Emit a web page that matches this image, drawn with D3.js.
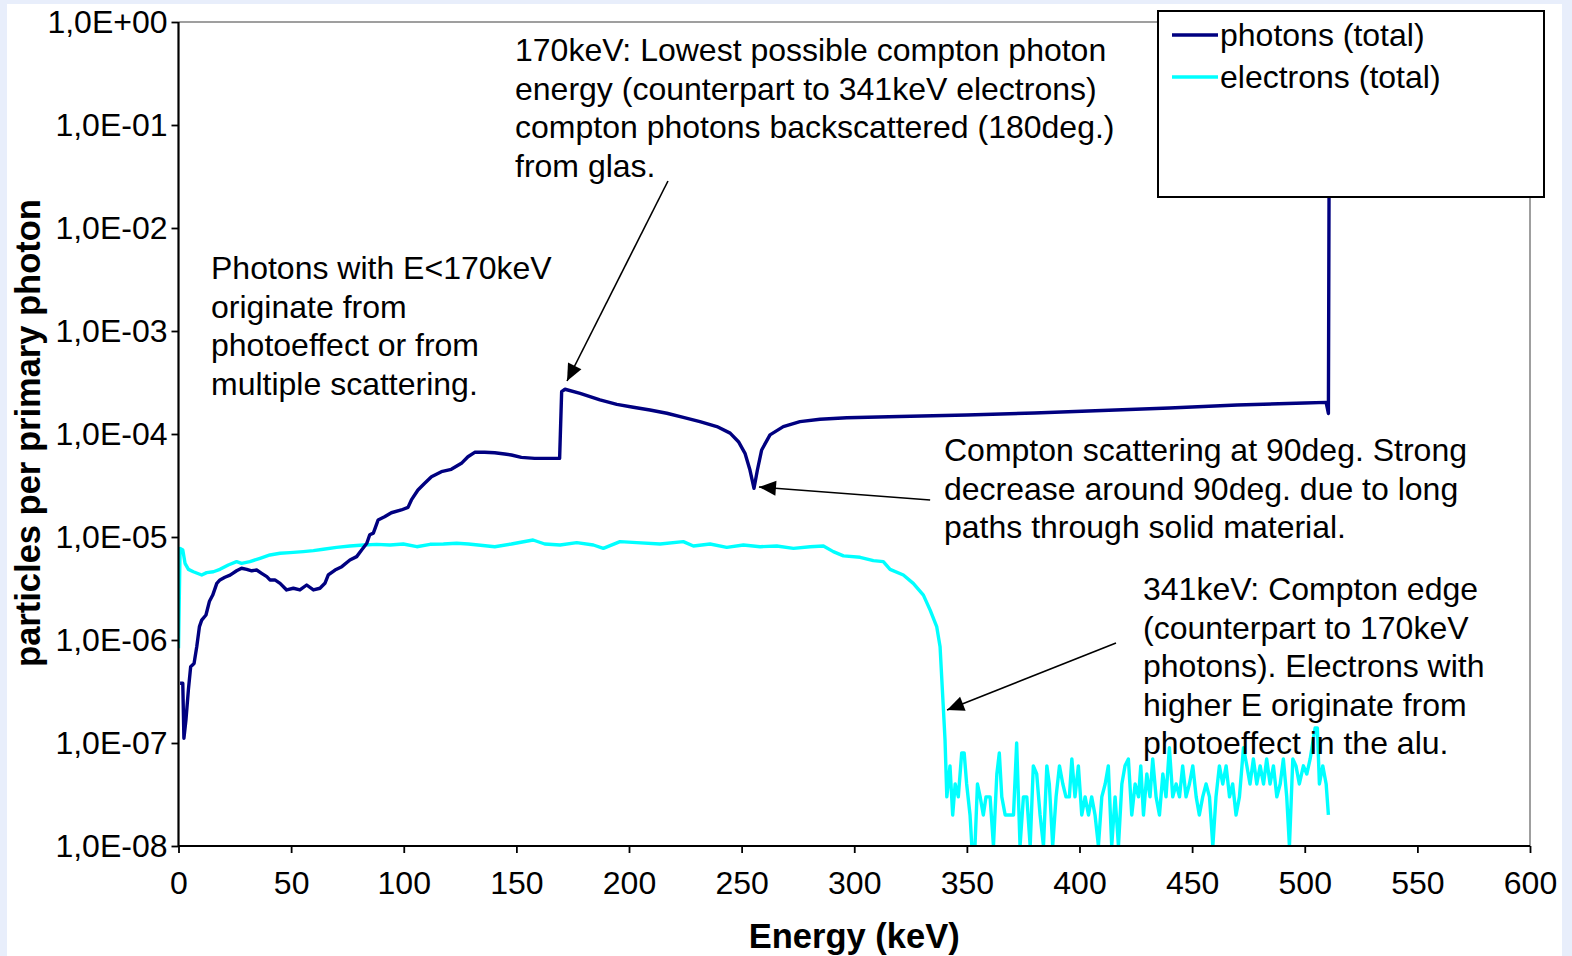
<!DOCTYPE html>
<html>
<head>
<meta charset="utf-8">
<script src="https://cdn.jsdelivr.net/npm/d3@7/dist/d3.min.js"></script>
<style>
  html, body { margin: 0; padding: 0; background: #e8eefb; }
  svg { display: block; font-family: "Liberation Sans", Arial, sans-serif; }
</style>
</head>
<body>
<svg id="chart" width="1572" height="956"></svg>
<script>
// ---------------- data ----------------
const xTickValues = [0, 50, 100, 150, 200, 250, 300, 350, 400, 450, 500, 550, 600];
const yTickValues = [1, 1e-1, 1e-2, 1e-3, 1e-4, 1e-5, 1e-6, 1e-7, 1e-8];
const yTickLabels = ["1,0E+00", "1,0E-01", "1,0E-02", "1,0E-03", "1,0E-04", "1,0E-05", "1,0E-06", "1,0E-07", "1,0E-08"];

const seriesNames = ["photons (total)", "electrons (total)"];

// photons (total): energy (keV) and particles per primary photon
const photonEnergy = [0.7, 1.9, 2.4, 3.3, 4.4, 5.4, 6.9, 8.1, 9.3, 10.3, 12.2, 13.7, 15.2, 17.0, 18.4, 20.6, 22.9, 25.8, 28.0, 30.3, 32.5, 34.7, 36.9, 39.2, 40.6, 42.8, 45.1, 48.0, 51.0, 53.9, 56.9, 59.9, 62.8, 65.0, 66.5, 69.5, 72.5, 76.1, 79.1, 81.3, 83.6, 84.9, 86.5, 88.6, 91.5, 94.5, 98.9, 101.9, 103.4, 106.3, 109.3, 112.3, 116.7, 121.1, 125.6, 128.5, 131.5, 135.9, 140.4, 144.8, 147.8, 152.2, 158.1, 162.6, 169.2, 170.1, 171.6, 178.3, 187.1, 194.6, 201.9, 209.3, 216.8, 224.1, 231.5, 239.0, 244.9, 248.6, 251.5, 253.7, 255.5, 257.0, 258.9, 262.6, 268.5, 275.9, 284.8, 296.7, 320, 350, 380, 410, 440, 470, 500, 509.5, 510.5, 511.0];
const photonValue = [3.8e-7, 3.8e-7, 1.11e-7, 1.67e-7, 3.3e-7, 5.5e-7, 5.9e-7, 8.6e-7, 1.35e-6, 1.56e-6, 1.75e-6, 2.36e-6, 2.73e-6, 3.55e-6, 3.83e-6, 4.07e-6, 4.27e-6, 4.7e-6, 4.97e-6, 4.85e-6, 4.7e-6, 4.78e-6, 4.44e-6, 4.12e-6, 3.83e-6, 3.83e-6, 3.55e-6, 3.06e-6, 3.18e-6, 3.06e-6, 3.42e-6, 3.06e-6, 3.18e-6, 3.55e-6, 4.28e-6, 4.78e-6, 5.15e-6, 5.98e-6, 6.45e-6, 7.48e-6, 8.69e-6, 1.05e-5, 1.09e-5, 1.46e-5, 1.57e-5, 1.72e-5, 1.83e-5, 1.94e-5, 2.29e-5, 2.86e-5, 3.32e-5, 3.85e-5, 4.31e-5, 4.54e-5, 5.19e-5, 6.02e-5, 6.64e-5, 6.64e-5, 6.57e-5, 6.4e-5, 6.25e-5, 5.93e-5, 5.8e-5, 5.8e-5, 5.8e-5, 2.58e-4, 2.72e-4, 2.48e-4, 2.14e-4, 1.94e-4, 1.82e-4, 1.71e-4, 1.59e-4, 1.45e-4, 1.32e-4, 1.18e-4, 1.02e-4, 8.42e-5, 6.49e-5, 4.47e-5, 2.97e-5, 4.47e-5, 7.0e-5, 9.8e-5, 1.18e-4, 1.32e-4, 1.39e-4, 1.44e-4, 1.48e-4, 1.53e-4, 1.6e-4, 1.69e-4, 1.79e-4, 1.91e-4, 2.0e-4, 2.03e-4, 1.58e-4, 0.9];

// electrons (total)
const electronEnergy = [0.0, 0.7, 1.9, 2.9, 4.4, 6.6, 10.3, 12.5, 15.5, 18.4, 22.1, 25.8, 28.0, 31.7, 36.2, 40.6, 45.1, 49.5, 55.4, 59.9, 64.3, 70.2, 76.1, 82.1, 88.0, 93.9, 99.8, 105.8, 111.7, 117.6, 123.5, 128.7, 133.0, 140.4, 147.8, 157.4, 162.6, 169.4, 176.8, 184.2, 188.6, 196.0, 203.4, 213.8, 224.1, 228.6, 236.0, 243.4, 250.8, 258.2, 265.6, 273.0, 280.4, 286.3, 290.7, 295.2, 302.6, 308.5, 312.9, 315.9, 321.8, 326.2, 330.7, 333.7, 336.6, 338.1, 339.6, 340.3,
  341.1, 342.5, 343.7, 344.8, 346.2, 347.7, 348.8, 349.9, 351.4, 352.2, 353.6, 354.7, 355.9, 357.3, 358.5, 360.3, 361.8, 363.3, 364.4, 365.5, 367.0, 368.4, 370.7, 372.1, 373.6, 375.1, 376.6, 378.1, 379.5, 381.0, 382.5, 384.0, 385.5, 386.6, 388.1, 389.6, 391.1, 392.6, 394.0, 395.5, 396.6, 398.0, 399.5, 401.0, 402.5, 404.0, 405.4, 406.9, 408.4, 409.9, 411.4, 412.8, 414.3, 415.8, 417.3, 418.8, 420.2, 421.7, 423.2, 424.7, 426.2, 427.2, 428.4, 429.9, 431.3, 432.5, 434.0, 435.5, 437.0, 438.4, 439.9, 441.4, 442.9, 444.4, 445.8, 447.3, 448.8, 450.3, 451.8, 453.2, 454.7, 456.2, 457.7, 459.2, 460.6, 462.1, 463.6, 465.1, 466.6, 468.0, 469.5, 471.0, 472.8, 474.3, 475.7, 477.2, 478.7, 480.2, 481.7, 483.1, 484.6, 486.1, 487.6, 489.1, 490.5, 492.0, 493.2, 494.7, 496.1, 497.6, 499.4, 500.9, 502.4, 504.6, 505.6, 506.5, 508.0, 509.5, 510.5];
const electronValue = [8.3e-7, 7.76e-6, 7.48e-6, 5.55e-6, 4.85e-6, 4.6e-6, 4.28e-6, 4.51e-6, 4.6e-6, 4.85e-6, 5.35e-6, 5.76e-6, 5.55e-6, 5.76e-6, 6.21e-6, 6.69e-6, 6.95e-6, 7.05e-6, 7.21e-6, 7.37e-6, 7.6e-6, 7.94e-6, 8.18e-6, 8.36e-6, 8.49e-6, 8.36e-6, 8.55e-6, 8.05e-6, 8.49e-6, 8.55e-6, 8.69e-6, 8.55e-6, 8.36e-6, 8.05e-6, 8.55e-6, 9.35e-6, 8.55e-6, 8.36e-6, 8.81e-6, 8.36e-6, 7.76e-6, 9.02e-6, 8.81e-6, 8.55e-6, 9.02e-6, 8.18e-6, 8.55e-6, 7.94e-6, 8.36e-6, 8.05e-6, 8.18e-6, 7.76e-6, 8.05e-6, 8.18e-6, 7.21e-6, 6.55e-6, 6.35e-6, 5.89e-6, 5.76e-6, 4.85e-6, 4.28e-6, 3.55e-6, 2.73e-6, 1.95e-6, 1.35e-6, 8.6e-7, 2.09e-7, 1.07e-7,
  3e-8, 6e-8, 2e-8, 4e-8, 3e-8, 8e-8, 8e-8, 4e-8, 2e-8, 1e-8, 1e-8, 4e-8, 3e-8, 2e-8, 3e-8, 3e-8, 1e-8, 5e-8, 8e-8, 3e-8, 2e-8, 2e-8, 2e-8, 1e-7, 1e-8, 3e-8, 3e-8, 1e-8, 6e-8, 5e-8, 2e-8, 1e-8, 6e-8, 4e-8, 1e-8, 3e-8, 6e-8, 4e-8, 3e-8, 3e-8, 7e-8, 3e-8, 6e-8, 2e-8, 3e-8, 2e-8, 3e-8, 2e-8, 1e-8, 3e-8, 4e-8, 6e-8, 1e-8, 3e-8, 1e-8, 4e-8, 6e-8, 7e-8, 2e-8, 4e-8, 3e-8, 6e-8, 2e-8, 5e-8, 3e-8, 7e-8, 3e-8, 2e-8, 5e-8, 3e-8, 9e-8, 3e-8, 4e-8, 3e-8, 6e-8, 3e-8, 4e-8, 6e-8, 3e-8, 2e-8, 3e-8, 4e-8, 3e-8, 1e-8, 3e-8, 6e-8, 4e-8, 6e-8, 3e-8, 4e-8, 2e-8, 3e-8, 9e-8, 6e-8, 4e-8, 7e-8, 4e-8, 6e-8, 4e-8, 7e-8, 4e-8, 6e-8, 3e-8, 4e-8, 7e-8, 3e-8, 1e-8, 7e-8, 6e-8, 4e-8, 6e-8, 5e-8, 7e-8, 1.4e-7, 1.4e-7, 4e-8, 6e-8, 4e-8, 2e-8];

const annotationTexts = [
  ["170keV: Lowest possible compton photon", "energy (counterpart to 341keV electrons)", "compton photons backscattered (180deg.)", "from glas."],
  ["Photons with E<170keV", "originate from", "photoeffect or from", "multiple scattering."],
  ["Compton scattering at 90deg. Strong", "decrease around 90deg. due to long", "paths through solid material."],
  ["341keV: Compton edge", "(counterpart to 170keV", "photons). Electrons with", "higher E originate from", "photoeffect in the alu."]
];
// arrows in data units: [tailE, tailV, tipE, tipV]
const arrowEnds = [
  [217.3, 2.86e-2, 172.5, 3.27e-4],
  [333.7, 2.29e-5, 257.7, 3.06e-5],
  [416.2, 9.35e-7, 341.2, 2.09e-7]
];

// ---------------- layout ----------------
const W = 1572, H = 956;
const plot = { left: 178.5, right: 1530, top: 22, bottom: 846 };
const colors = { photons: "#000080", electrons: "#00ffff" };
const font = '"Liberation Sans", Arial, sans-serif';

const svg = d3.select("#chart");
svg.append("rect").attr("x", 0).attr("y", 0).attr("width", W).attr("height", H).attr("fill", "#e8eefb");
svg.append("rect").attr("x", 7).attr("y", 4).attr("width", 1555).attr("height", H - 4).attr("fill", "#ffffff");

const x = d3.scaleLinear().domain([0, 600]).range([plot.left, plot.right]);
const y = d3.scaleLog().domain([1e-8, 1]).range([plot.bottom, plot.top]);

// frame (top / right, grey)
svg.append("path")
  .attr("d", `M${plot.left},${plot.top}H${plot.right}V${plot.bottom}`)
  .attr("fill", "none").attr("stroke", "#808080").attr("stroke-width", 1.5);

// clip
const defs = svg.append("defs");
defs.append("clipPath").attr("id", "clip")
  .append("rect").attr("x", plot.left).attr("y", plot.top)
  .attr("width", plot.right - plot.left).attr("height", plot.bottom - plot.top);

// arrow marker
defs.append("marker")
  .attr("id", "head").attr("viewBox", "-18 -9 20 18")
  .attr("refX", 0).attr("refY", 0)
  .attr("markerWidth", 20).attr("markerHeight", 18)
  .attr("markerUnits", "userSpaceOnUse")
  .attr("orient", "auto")
  .append("path").attr("d", "M0,0L-17,-7.5L-17,7.5Z").attr("fill", "#000");

const line = d3.line().x(d => x(d[0])).y(d => y(d[1]));
const photons = photonEnergy.map((e, i) => [e, photonValue[i]]);
const electrons = electronEnergy.map((e, i) => [e, electronValue[i]]);

const g = svg.append("g").attr("clip-path", "url(#clip)");
g.append("path").datum(electrons).attr("d", line)
  .attr("fill", "none").attr("stroke", colors.electrons).attr("stroke-width", 3.4).attr("stroke-linejoin", "round");
g.append("path").datum(photons).attr("d", line)
  .attr("fill", "none").attr("stroke", colors.photons).attr("stroke-width", 3.4).attr("stroke-linejoin", "round");

// axes
const yAxis = d3.axisLeft(y).tickValues(yTickValues)
  .tickFormat((d, i) => yTickLabels[i]).tickSize(7).tickPadding(4);
const gy = svg.append("g").attr("transform", `translate(${plot.left},0)`).call(yAxis);
const xAxis = d3.axisBottom(x).tickValues(xTickValues).tickFormat(d3.format("d")).tickSize(7).tickPadding(18);
const gx = svg.append("g").attr("transform", `translate(0,${plot.bottom})`).call(xAxis);
[gx, gy].forEach(a => {
  a.select(".domain").attr("stroke", "#000").attr("stroke-width", 2.2);
  a.selectAll(".tick line").attr("stroke", "#000").attr("stroke-width", 1.8);
  a.selectAll(".tick text").attr("fill", "#000").style("font-family", font).style("font-size", "32px");
});
gy.select(".domain").attr("d", `M0,${plot.bottom}V${plot.top}`);
gx.select(".domain").attr("d", `M${plot.left},0H${plot.right}`);
gx.selectAll(".tick text").attr("dy", "0.71em");

// axis titles
svg.append("text").attr("x", (plot.left + plot.right) / 2).attr("y", 948)
  .attr("text-anchor", "middle").style("font-family", font).style("font-size", "34.5px").style("font-weight", "bold")
  .text("Energy (keV)");
svg.append("text").attr("transform", `translate(40,433) rotate(-90)`)
  .attr("text-anchor", "middle").style("font-family", font).style("font-size", "34.5px").style("font-weight", "bold")
  .text("particles per primary photon");

// annotations
const annPos = [
  { x: 515, y: 61 },
  { x: 211, y: 279 },
  { x: 944, y: 461 },
  { x: 1143, y: 600 }
];
annotationTexts.forEach((lines, k) => {
  const t = svg.append("text").style("font-family", font).style("font-size", "32px").attr("fill", "#000");
  lines.forEach((s, j) => {
    t.append("tspan").attr("x", annPos[k].x).attr("y", annPos[k].y + j * 38.5).text(s);
  });
});
arrowEnds.forEach(a => {
  svg.append("line")
    .attr("x1", x(a[0])).attr("y1", y(a[1]))
    .attr("x2", x(a[2])).attr("y2", y(a[3]))
    .attr("stroke", "#000").attr("stroke-width", 1.6)
    .attr("marker-end", "url(#head)");
});

// legend
const lg = svg.append("g");
lg.append("rect").attr("x", 1158).attr("y", 11).attr("width", 386).attr("height", 186)
  .attr("fill", "#fff").attr("stroke", "#000").attr("stroke-width", 2);
[colors.photons, colors.electrons].forEach((c, i) => {
  const yy = 35 + i * 42;
  lg.append("line").attr("x1", 1172).attr("x2", 1218).attr("y1", yy).attr("y2", yy)
    .attr("stroke", c).attr("stroke-width", 3.4);
  lg.append("text").attr("x", 1220).attr("y", yy + 11).style("font-family", font).style("font-size", "32px")
    .text(seriesNames[i]);
});
</script>
</body>
</html>
